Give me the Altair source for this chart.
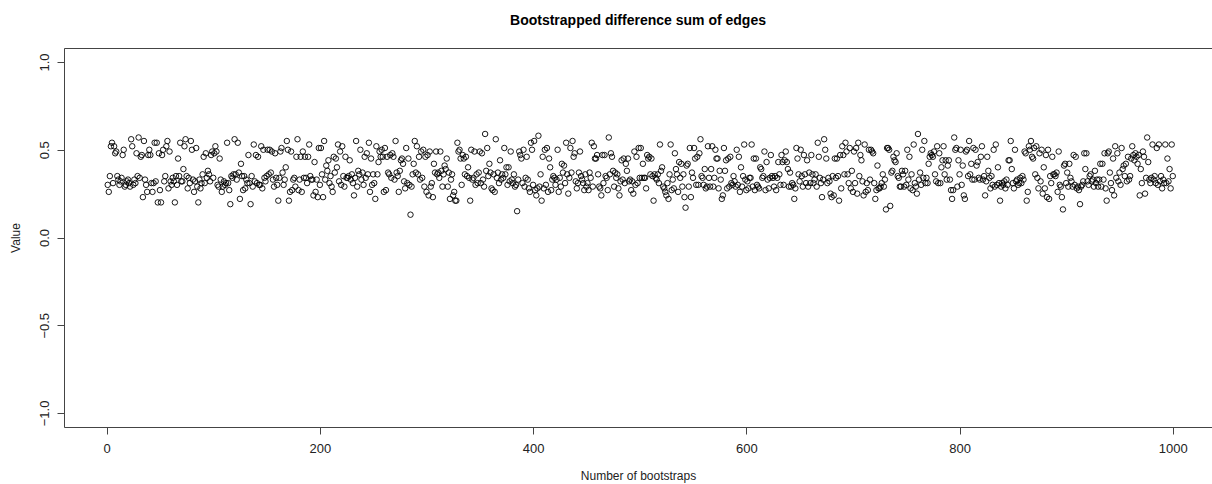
import altair as alt
import pandas as pd

# Bootstrapped values in blocks of 100 bootstraps
block_a = [
    0.30,0.26,0.35,0.52,0.54,0.31,0.52,0.48,0.49,0.35,0.33,
    0.30,0.32,0.34,0.47,0.50,0.29,0.30,0.32,0.33,0.31,0.29,
    0.56,0.52,0.30,0.33,0.31,0.48,0.35,0.57,0.34,0.46,0.47,
    0.23,0.55,0.33,0.30,0.26,0.47,0.50,0.47,0.31,0.26,0.31,
    0.54,0.32,0.54,0.20,0.48,0.27,0.20,0.47,0.50,0.32,0.35,
    0.52,0.55,0.28,0.49,0.32,0.30,0.34,0.32,0.20,0.35,0.30,
    0.45,0.35,0.54,0.32,0.32,0.39,0.52,0.56,0.35,0.28,0.34,
    0.31,0.55,0.50,0.33,0.26,0.32,0.51,0.29,0.20,0.33,0.28,
    0.31,0.36,0.46,0.31,0.48,0.34,0.38,0.36,0.32,0.47,0.49,
    0.34,0.48,0.52,0.49,0.30,0.29,0.45,0.33,0.26,0.29,0.32,
    0.30,0.31,0.54,0.31,0.27,0.19,0.35,0.34,0.36,0.56,0.36,
    0.33,0.54,0.37,0.22,0.42,0.35,0.27,0.35,0.28,0.33,0.31,
    0.47,0.31,0.19,0.35,0.29,0.53,0.32,0.47,0.31,0.46,0.30,
    0.30,0.52,0.28,0.50,0.34,0.32,0.35,0.50,0.36,0.50,
    0.37,0.49,0.33,0.29,0.48,0.34,0.30,0.21,0.34,0.49,
    0.51,0.37,0.30,0.33,0.40,0.55,0.50,0.21,0.26,0.49,
    0.27,0.33,0.34,0.29,0.46,0.56,0.27,0.33,0.46,0.26,
    0.49,0.34,0.46,0.34,0.31,0.46,0.53,0.35,0.33,0.33,
    0.24,0.43,0.26,0.33,0.23,0.51,0.30,
]
block_b = [
    0.51,0.36,0.23,0.55,0.33,0.41,0.38,0.44,0.31,0.35,
    0.29,0.26,0.46,0.37,0.45,0.40,0.53,0.32,0.49,0.30,
    0.52,0.35,0.29,0.46,0.34,0.34,0.35,0.44,0.33,0.36,
    0.31,0.24,0.34,0.55,0.29,0.38,0.36,0.50,0.33,0.37,
    0.30,0.46,0.34,0.48,0.36,0.54,0.26,0.45,0.30,0.36,
    0.31,0.22,0.52,0.36,0.43,0.49,0.46,0.50,0.46,0.26,
    0.51,0.27,0.46,0.37,0.36,0.47,0.34,0.48,0.46,0.33,
    0.55,0.37,0.35,0.26,0.38,0.44,0.45,0.42,0.32,0.28,
    0.51,0.31,0.45,0.30,0.13,0.29,0.36,0.42,0.55,0.37,
    0.52,0.36,0.46,0.33,0.49,0.34,0.50,0.29,0.46,0.26,
]
block_c = [
    0.47,0.24,0.49,0.29,0.31,0.23,0.42,0.37,0.49,0.36,
    0.37,0.34,0.49,0.38,0.29,0.36,0.41,0.39,0.45,0.29,
    0.37,0.22,0.33,0.36,0.24,0.26,0.21,0.21,0.54,0.49,
    0.50,0.45,0.30,0.47,0.45,0.36,0.46,0.35,0.40,0.34,
    0.21,0.50,0.33,0.34,0.49,0.30,0.36,0.31,0.37,0.49,
    0.31,0.48,0.33,0.29,
    0.59,0.38,0.51,0.35,0.42,0.37,0.28,0.27,0.36,0.26,
    0.56,0.34,0.37,0.31,0.44,0.33,0.36,0.34,0.51,0.36,
    0.40,0.30,0.40,0.32,0.49,0.33,0.31,0.36,0.29,0.30,
    0.15,0.33,0.49,0.47,0.45,0.31,0.50,0.29,0.34,0.46,
    0.33,0.28,0.26,0.54,0.50,0.30,
]
block_d = [
    0.55,0.27,0.24,0.28,0.58,0.29,0.36,0.21,0.46,0.28,
    0.50,0.30,0.51,0.26,0.45,0.40,0.27,0.33,0.35,0.34,
    0.30,0.33,0.50,0.26,0.34,0.29,0.42,0.37,0.41,0.31,
    0.54,0.36,0.25,0.34,0.51,0.37,0.55,0.46,0.48,0.32,
    0.28,0.31,0.37,0.49,0.35,0.33,0.31,0.27,0.36,0.29,
    0.31,0.27,0.37,0.34,0.54,0.29,0.52,0.45,0.45,0.47,
    0.36,0.29,0.28,0.24,0.47,0.31,0.47,0.35,0.34,0.27,
    0.57,0.36,0.48,0.46,0.38,0.29,0.37,0.34,0.36,0.28,
    0.24,0.32,0.44,0.33,0.45,0.31,0.42,0.38,0.45,0.32,
    0.33,0.27,0.32,0.25,0.49,0.30,0.46,0.31,0.51,0.34,
]
block_e = [
    0.51,0.34,0.42,0.34,0.34,0.28,0.47,0.45,0.46,0.36,
    0.45,0.35,0.21,0.36,0.34,0.33,0.36,0.31,0.53,0.38,
    0.40,0.29,0.28,0.26,0.24,0.31,0.22,0.36,0.53,0.27,
    0.33,0.28,0.48,0.39,0.36,0.26,0.43,0.34,0.42,0.29,
    0.36,0.23,0.17,0.41,0.42,0.29,0.51,0.23,0.37,0.34,
    0.51,0.45,0.30,0.46,0.30,0.48,0.56,0.35,0.34,0.30,
    0.39,0.28,0.29,0.52,0.34,0.29,0.39,0.52,0.29,0.34,
    0.50,0.45,0.45,0.28,0.38,0.33,0.22,0.24,0.51,0.38,
    0.44,0.28,0.45,0.29,0.46,0.31,0.30,0.35,0.32,0.29,
    0.50,0.30,0.46,0.26,0.40,0.29,0.35,0.53,0.33,0.27,
]
block_f = [
    0.32,0.28,0.34,0.34,0.53,0.29,0.45,0.27,0.45,0.30,
    0.29,0.28,0.40,0.39,0.34,0.35,0.49,0.27,0.43,0.33,
    0.28,0.34,0.47,0.35,0.34,0.29,0.35,0.27,0.34,0.43,
    0.36,0.30,0.47,0.43,0.30,0.44,0.49,0.43,0.39,0.29,
    0.37,0.29,0.31,0.30,0.22,0.28,0.51,0.45,0.36,0.32,
    0.50,0.35,0.29,0.47,0.36,0.31,0.44,0.29,0.37,0.31,
    0.47,0.36,0.31,0.33,0.36,0.29,0.54,0.46,0.34,0.31,
    0.23,0.33,0.56,0.50,0.45,0.31,0.34,0.32,0.25,0.23,
    0.35,0.24,0.45,0.34,0.45,0.35,0.21,0.47,0.28,0.52,
    0.47,0.36,0.54,0.49,0.36,0.31,0.51,0.28,0.38,0.26,
]
block_g = [
    0.49,0.31,0.51,0.25,0.54,0.35,0.47,0.44,0.32,0.24,
    0.53,0.26,0.31,0.27,0.50,0.33,0.50,0.49,0.48,0.31,
    0.22,0.27,0.41,0.28,0.28,0.29,0.31,0.36,0.29,0.33,
    0.16,0.51,0.51,0.50,0.18,0.37,0.38,0.46,0.44,0.43,
    0.48,0.35,0.34,0.29,0.29,0.38,0.36,0.29,0.38,0.30,
    0.50,0.33,0.46,0.28,0.36,0.27,0.53,0.31,0.29,0.25,
    0.59,0.33,0.37,0.30,0.50,0.34,0.55,0.31,0.34,0.31,
    0.42,0.46,0.48,0.47,0.46,0.49,0.36,0.32,0.52,0.31,
    0.48,0.31,0.40,0.44,0.52,0.36,0.44,0.33,0.41,0.44,
    0.33,0.27,0.22,0.27,0.57,0.50,0.51,0.29,0.44,0.36,
]
block_h = [
    0.50,0.30,0.41,0.24,0.22,0.49,0.50,0.35,0.55,0.36,
    0.42,0.33,0.51,0.33,0.50,0.41,0.43,0.34,0.33,0.46,
    0.52,0.33,0.35,0.24,0.32,0.46,0.38,0.34,0.28,0.35,
    0.30,0.50,0.29,0.53,0.30,0.40,0.31,0.21,0.29,0.31,
    0.30,0.32,0.28,0.33,0.30,0.44,0.44,0.55,0.39,0.31,
    0.28,0.50,0.32,0.33,0.30,0.31,0.34,0.31,0.35,0.33,
    0.49,0.48,0.21,0.26,0.52,0.50,0.55,0.46,0.45,0.51,
    0.36,0.52,0.34,0.28,0.48,0.32,0.50,0.25,0.40,0.28,
    0.47,0.23,0.50,0.22,0.35,0.31,0.46,0.36,0.36,0.35,
    0.37,0.26,0.49,0.30,0.29,0.23,0.16,0.41,0.42,0.31,
]
block_i = [
    0.37,0.29,0.42,0.34,0.32,0.29,0.47,0.30,0.46,0.28,
    0.29,0.27,0.19,0.29,0.30,0.32,0.48,0.39,0.48,0.32,
    0.30,0.35,0.36,0.32,0.33,0.29,0.38,0.31,0.33,0.29,
    0.33,0.42,0.29,0.42,0.33,0.48,0.28,0.21,0.48,0.49,
    0.37,0.31,0.27,0.45,0.24,0.52,0.34,0.48,0.32,0.37,
    0.30,0.51,0.39,0.41,0.35,0.42,0.32,0.46,0.33,0.35,
    0.45,0.52,0.47,0.44,0.48,0.46,0.42,0.47,0.24,0.39,
    0.31,0.49,0.46,0.25,0.34,0.57,0.43,0.33,0.31,0.34,
    0.53,0.33,0.35,0.31,0.51,0.30,0.53,0.32,0.35,0.28,
    0.33,0.31,0.53,0.31,0.45,0.32,0.39,0.28,0.53,0.35,
]

values = (block_a + block_b + block_c + block_d + block_e
          + block_f + block_g + block_h + block_i)
x_ticks = [0, 200, 400, 600, 800, 1000]
y_ticks = [-1.0, -0.5, 0.0, 0.5, 1.0]

df = pd.DataFrame({"boot": list(range(1, len(values) + 1)), "value": values})

FONT = "Liberation Sans"
LINE = "#444444"
TEXT = "#222222"

xscale = alt.Scale(domain=[-40, 1036.8], nice=False, zero=False)
yscale = alt.Scale(domain=[-1.08, 1.08], nice=False, zero=False)

points = alt.Chart(df).mark_point(
    shape="circle", filled=False, size=30, stroke="black", strokeWidth=0.9, opacity=1
).encode(
    x=alt.X("boot:Q", scale=xscale, title="Number of bootstraps",
            axis=alt.Axis(values=x_ticks, format="d", grid=False, tickSize=7,
                          tickColor=LINE, domainColor=LINE, labelFont=FONT,
                          labelFontSize=13, labelColor=TEXT, labelPadding=8,
                          titleFont=FONT, titleFontSize=12, titleFontWeight="normal",
                          titleColor=TEXT, titlePadding=15, labelFlush=False)),
    y=alt.Y("value:Q", scale=yscale, title="Value",
            axis=alt.Axis(values=y_ticks, format=".1f", grid=False, tickSize=7,
                          tickColor=LINE, domainColor=LINE, labelFont=FONT,
                          labelFontSize=13, labelColor=TEXT, labelAngle=270,
                          labelAlign="center", labelBaseline="bottom", labelPadding=6,
                          titleFont=FONT, titleFontSize=12, titleFontWeight="normal",
                          titleColor=TEXT, titlePadding=16, labelFlush=False)),
)

topline = alt.Chart(df).mark_point(opacity=0).encode(
    x=alt.X("boot:Q", scale=xscale,
            axis=alt.Axis(orient="top", labels=False, ticks=False, grid=False,
                          domainColor=LINE, title=None)),
)

chart = alt.layer(points, topline).resolve_axis(x="independent").properties(
    width=1148,
    height=379,
    title=alt.TitleParams("Bootstrapped difference sum of edges", font=FONT,
                          fontSize=14, fontWeight="bold", color="black",
                          anchor="middle", offset=20),
    autosize=alt.AutoSizeParams(type="none"),
    padding={"left": 64, "top": 48, "right": 0, "bottom": 57},
).configure_view(stroke=None).configure(background="white")

chart.save("out.html", embed_options={"renderer": "svg", "actions": False})
